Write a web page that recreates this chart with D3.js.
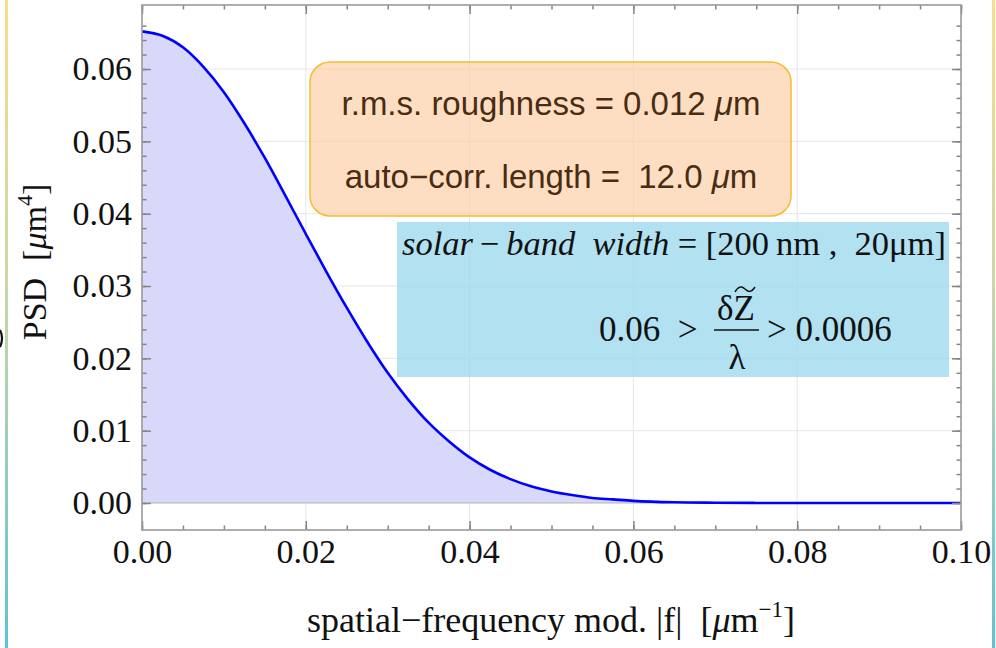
<!DOCTYPE html>
<html>
<head>
<meta charset="utf-8">
<script src="https://cdn.jsdelivr.net/npm/d3@7/dist/d3.min.js"></script>
<style>
  html, body { margin: 0; padding: 0; background: #fff; }
  svg { display: block; }
  text { white-space: pre; }
</style>
</head>
<body>
<svg id="chart" width="996" height="648"></svg>
<script>
// Spatial frequency |f| [µm^-1] and power spectral density [µm^4]
const freq = [0, 0.0025, 0.005, 0.0075, 0.01, 0.0125, 0.015, 0.0175, 0.02, 0.0225,
              0.025, 0.0275, 0.03, 0.0325, 0.035, 0.0375, 0.04, 0.0425, 0.045, 0.0475,
              0.05, 0.0525, 0.055, 0.0575, 0.06, 0.065, 0.07, 0.075, 0.08, 0.09, 0.1];
const psd  = [0.0652, 0.0646, 0.0630, 0.0603, 0.0568, 0.0525, 0.0477, 0.0425, 0.0372, 0.0320,
              0.0270, 0.0223, 0.0180, 0.0143, 0.0111, 0.0085, 0.0063, 0.0046, 0.0033, 0.0023,
              0.0016, 0.0011, 0.0007, 0.0005, 0.0003, 0.0001, 0.00004, 0.00001, 0, 0, 0];

const xTickValues = [0, 0.02, 0.04, 0.06, 0.08, 0.10];
const xTickLabels = ["0.00", "0.02", "0.04", "0.06", "0.08", "0.10"];
const yTickValues = [0, 0.01, 0.02, 0.03, 0.04, 0.05, 0.06];
const yTickLabels = ["0.00", "0.01", "0.02", "0.03", "0.04", "0.05", "0.06"];
const xMinorStep = 0.005;
const yMinorStep = 0.002;

const infoLines = ["r.m.s. roughness = 0.012 ", "auto\u2212corr. length =  12.0 "];

const svg = d3.select("#chart");
const W = 996, H = 648;
const plot = { left: 142, right: 961, top: 5, bottom: 530 };

const x = d3.scaleLinear().domain([0, 0.1]).range([plot.left, plot.right]);
const y = d3.scaleLinear().domain([-0.003733, 0.06885]).range([plot.bottom, plot.top]);

const defs = svg.append("defs");
const grad = defs.append("linearGradient").attr("id", "edge").attr("x1", 0).attr("y1", 0).attr("x2", 0).attr("y2", 1);
grad.append("stop").attr("offset", "0%").attr("stop-color", "#fcdc8c");
grad.append("stop").attr("offset", "45%").attr("stop-color", "#c8d8a6");
grad.append("stop").attr("offset", "100%").attr("stop-color", "#5cc3d3");
defs.append("clipPath").attr("id", "plotclip").append("rect")
  .attr("x", plot.left).attr("y", plot.top)
  .attr("width", plot.right - plot.left).attr("height", plot.bottom - plot.top);

svg.append("rect").attr("width", W).attr("height", H).attr("fill", "#fff");

// coloured side strips
svg.append("rect").attr("x", 5).attr("y", 0).attr("width", 3).attr("height", H).attr("fill", "url(#edge)");
svg.append("rect").attr("x", 992).attr("y", 0).attr("width", 3).attr("height", H).attr("fill", "url(#edge)");

// grid
const grid = svg.append("g").attr("clip-path", "url(#plotclip)");
grid.selectAll(".gx").data(xTickValues.slice(1, -1)).join("line")
  .attr("x1", d => x(d)).attr("x2", d => x(d)).attr("y1", plot.top).attr("y2", plot.bottom)
  .attr("stroke", "#e6e6e6").attr("stroke-width", 1);
grid.selectAll(".gy").data(yTickValues.slice(1)).join("line")
  .attr("y1", d => y(d)).attr("y2", d => y(d)).attr("x1", plot.left).attr("x2", plot.right)
  .attr("stroke", "#e6e6e6").attr("stroke-width", 1);

// filled area under the curve and the curve itself
const pts = freq.map((f, i) => [f, psd[i]]);
const area = d3.area().x(d => x(d[0])).y0(y(0)).y1(d => y(d[1])).curve(d3.curveMonotoneX);
const line = d3.line().x(d => x(d[0])).y(d => y(d[1])).curve(d3.curveMonotoneX);
const g = svg.append("g").attr("clip-path", "url(#plotclip)");
g.append("path").datum(pts).attr("d", area).attr("fill", "#d8d8fa");
g.append("line").attr("x1", plot.left).attr("x2", plot.right).attr("y1", y(0)).attr("y2", y(0))
  .attr("stroke", "#b4b4b4").attr("stroke-width", 1);
g.append("path").datum(pts).attr("d", line).attr("fill", "none")
  .attr("stroke", "#0000ff").attr("stroke-width", 2.6);

// frame ticks
const serif = "'Liberation Serif', 'Times New Roman', serif";
const xMinor = d3.range(0, 0.1 + 1e-9, xMinorStep);
const yMinor = d3.range(0, 0.068, yMinorStep);

function styleAxis(sel) {
  sel.select(".domain").remove();
  sel.selectAll(".tick line").attr("stroke", "#858585").attr("stroke-width", 1.5);
}

// bottom
svg.append("g").attr("transform", `translate(0,${plot.bottom})`)
  .call(d3.axisBottom(x).tickValues(xMinor).tickSize(-4.5).tickFormat(""))
  .call(styleAxis);
svg.append("g").attr("transform", `translate(0,${plot.bottom})`)
  .call(d3.axisBottom(x).tickValues(xTickValues).tickSize(-9).tickPadding(9)
    .tickFormat((d, i) => xTickLabels[i]))
  .call(styleAxis)
  .call(s => s.selectAll("text").attr("font-family", serif).attr("font-size", 34).attr("fill", "#111"));
// top
svg.append("g").attr("transform", `translate(0,${plot.top})`)
  .call(d3.axisTop(x).tickValues(xMinor).tickSize(-4.5).tickFormat(""))
  .call(styleAxis);
svg.append("g").attr("transform", `translate(0,${plot.top})`)
  .call(d3.axisTop(x).tickValues(xTickValues).tickSize(-9).tickFormat(""))
  .call(styleAxis);
// left
svg.append("g").attr("transform", `translate(${plot.left},0)`)
  .call(d3.axisLeft(y).tickValues(yMinor).tickSize(-4.5).tickFormat(""))
  .call(styleAxis);
svg.append("g").attr("transform", `translate(${plot.left},0)`)
  .call(d3.axisLeft(y).tickValues(yTickValues).tickSize(-9).tickPadding(10)
    .tickFormat((d, i) => yTickLabels[i]))
  .call(styleAxis)
  .call(s => s.selectAll("text").attr("font-family", serif).attr("font-size", 34).attr("fill", "#111"));
// right
svg.append("g").attr("transform", `translate(${plot.right},0)`)
  .call(d3.axisRight(y).tickValues(yMinor).tickSize(-4.5).tickFormat(""))
  .call(styleAxis);
svg.append("g").attr("transform", `translate(${plot.right},0)`)
  .call(d3.axisRight(y).tickValues(yTickValues).tickSize(-9).tickFormat(""))
  .call(styleAxis);

// frame
svg.append("rect").attr("x", plot.left).attr("y", plot.top)
  .attr("width", plot.right - plot.left).attr("height", plot.bottom - plot.top)
  .attr("fill", "none").attr("stroke", "#9a9a9a").attr("stroke-width", 1.6);

// roughness parameters box
const sans = "'Liberation Sans', Arial, sans-serif";
svg.append("rect").attr("x", 310).attr("y", 62).attr("width", 481).attr("height", 154).attr("rx", 20)
  .attr("fill", "#fdcfa6").attr("fill-opacity", 0.68).attr("stroke", "#f5bd2c").attr("stroke-width", 1.5);
infoLines.forEach((t, i) => {
  const tx = svg.append("text").attr("x", 551).attr("y", [115, 188][i])
    .attr("text-anchor", "middle").attr("font-family", sans).attr("font-size", 33).attr("fill", "#4a2c12");
  tx.append("tspan").text(t);
  tx.append("tspan").attr("font-style", "italic").text("\u03bc");
  tx.append("tspan").text("m");
});

// band box
svg.append("rect").attr("x", 397).attr("y", 222).attr("width", 552).attr("height", 155)
  .attr("fill", "#9fd9ef").attr("fill-opacity", 0.8);

const b1 = svg.append("text").attr("x", 402).attr("y", 255)
  .attr("font-family", serif).attr("font-size", 34.5).attr("fill", "#111");
b1.append("tspan").attr("font-style", "italic").text("solar");
b1.append("tspan").text("\u2009\u2212\u2009");
b1.append("tspan").attr("font-style", "italic").text("band  width");
b1.append("tspan").text(" = [200\u2009nm ,  20\u03bcm]");

const b2 = svg.append("g").attr("font-family", serif).attr("font-size", 35).attr("fill", "#111");
b2.append("text").attr("x", 599).attr("y", 341).text("0.06  >");
b2.append("text").attr("x", 736).attr("y", 320).attr("text-anchor", "middle").text("\u03b4Z");
// wide tilde over Z
b2.append("path").attr("d", "M735,292 C738,286 742,286 745,289 S751,293 755,287")
  .attr("fill", "none").attr("stroke", "#111").attr("stroke-width", 1.5);
b2.append("line").attr("x1", 714).attr("x2", 759).attr("y1", 330).attr("y2", 330)
  .attr("stroke", "#111").attr("stroke-width", 1.6);
b2.append("text").attr("x", 737).attr("y", 369).attr("text-anchor", "middle").text("\u03bb");
b2.append("text").attr("x", 767).attr("y", 341).text("> 0.0006");

// axis titles
const xt = svg.append("text").attr("x", 551).attr("y", 632).attr("text-anchor", "middle")
  .attr("font-family", serif).attr("font-size", 36).attr("fill", "#111");
xt.append("tspan").text("spatial\u2212frequency mod. |f|  [");
xt.append("tspan").attr("font-style", "italic").text("\u03bc");
xt.append("tspan").text("m");
xt.append("tspan").attr("font-size", 23).attr("dy", -15).text("\u22121");
xt.append("tspan").attr("dy", 15).text("]");

const yt = svg.append("text").attr("transform", "translate(46,262) rotate(-90)").attr("text-anchor", "middle")
  .attr("font-family", serif).attr("font-size", 34).attr("fill", "#111");
yt.append("tspan").text("PSD  [");
yt.append("tspan").attr("font-style", "italic").text("\u03bc");
yt.append("tspan").text("m");
yt.append("tspan").attr("font-size", 22).attr("dy", -14).text("4");
yt.append("tspan").attr("dy", 14).text("]");

// small dark stroke fragment at the left margin
svg.append("path").attr("d", "M0,330 Q4,338 0,347").attr("fill", "none")
  .attr("stroke", "#111").attr("stroke-width", 2.2);
</script>
</body>
</html>
